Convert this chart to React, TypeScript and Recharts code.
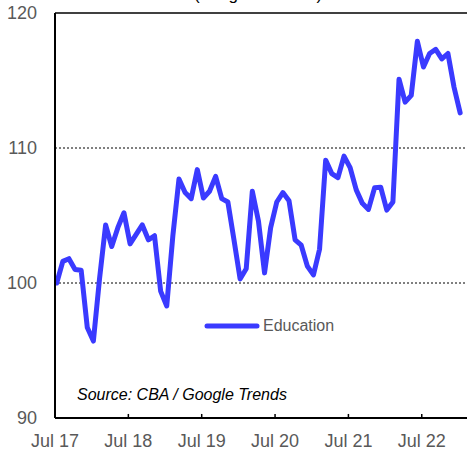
import React from 'react';
import { LineChart, Line, XAxis, YAxis, ReferenceLine } from 'recharts';

// Monthly index, Jul 17 .. Jan 23
const education = [
  100.0, 101.6, 101.8, 101.0, 100.95, 96.7, 95.7, 100.3, 104.3, 102.7, 104.1, 105.2,
  102.9, 103.6, 104.3, 103.2, 103.5, 99.4, 98.3, 103.5, 107.7, 106.7, 106.25, 108.4,
  106.3, 106.8, 107.9, 106.25, 106.0, 103.2, 100.3, 101.05, 106.8, 104.6, 100.75, 104.1,
  106.0, 106.7, 106.1, 103.2, 102.8, 101.25, 100.6, 102.5, 109.1, 108.1, 107.8, 109.4,
  108.55, 106.9, 105.9, 105.45, 107.05, 107.1, 105.4, 106.0, 115.1, 113.4, 113.9, 117.9,
  116.0, 117.0, 117.3, 116.6, 117.0, 114.5, 112.6,
];

const tickMonths = [0, 12, 24, 36, 48, 60];
const tickLabels = ['Jul 17', 'Jul 18', 'Jul 19', 'Jul 20', 'Jul 21', 'Jul 22'];
const yTicks = [90, 100, 110, 120];

const FONT = '"Liberation Sans", Arial, sans-serif';
const GREY = '#595959';
const BLUE = '#3a3aff';

// points sit a little after the start of their month
const data = education.map((v, i) => ({ m: i + 0.28, education: v }));

export default function App() {
  return (
    <div style={{ position: 'absolute', left: 0, top: 0, width: 467, height: 452, overflow: 'hidden', background: '#fff' }}>
      <div
        style={{
          position: 'absolute', top: -15, left: 0, width: 516, textAlign: 'center',
          fontFamily: FONT, fontSize: 17, color: '#000',
        }}
      >
        (Weighted index)
      </div>
      <LineChart width={467} height={452} data={data} margin={{ top: 13, right: 0, bottom: 0, left: 0 }}>
        <XAxis
          dataKey="m"
          type="number"
          domain={[0, 67.4]}
          ticks={tickMonths}
          tickFormatter={(v: number) => tickLabels[tickMonths.indexOf(v)] ?? ''}
          height={34}
          axisLine={{ stroke: '#000', strokeWidth: 2 }}
          tickLine={false}
          tickSize={6}
          tickMargin={10}
          tick={{ fill: GREY, fontSize: 18, fontFamily: FONT }}
          allowDataOverflow
        />
        <YAxis
          type="number"
          domain={[90, 120]}
          ticks={yTicks}
          width={55}
          axisLine={{ stroke: '#000', strokeWidth: 2 }}
          tickLine={false}
          tickSize={6}
          tickMargin={12}
          tick={{ fill: GREY, fontSize: 18, fontFamily: FONT }}
        />
        <ReferenceLine y={100} stroke="#000" strokeDasharray="2 2" />
        <ReferenceLine y={110} stroke="#000" strokeDasharray="2 2" />
        <ReferenceLine y={120} stroke="#000" strokeWidth={1.5} />
        {tickMonths.slice(1).map((m) => (
          <ReferenceLine key={m} segment={[{ x: m, y: 90 }, { x: m, y: 90.3 }]} stroke="#000" strokeWidth={1.5} />
        ))}
        <Line
          dataKey="education"
          name="Education"
          type="linear"
          stroke={BLUE}
          strokeWidth={5}
          strokeLinejoin="round"
          strokeLinecap="round"
          dot={false}
          isAnimationActive={false}
        />
      </LineChart>
      <div
        style={{
          position: 'absolute', left: 204, top: 317, display: 'flex', alignItems: 'center',
          fontFamily: FONT, fontSize: 16, color: GREY,
        }}
      >
        <svg width={56} height={10}>
          <line x1={3} y1={5} x2={53} y2={5} stroke={BLUE} strokeWidth={5} strokeLinecap="round" />
        </svg>
        <span style={{ marginLeft: 3 }}>Education</span>
      </div>
      <div
        style={{
          position: 'absolute', left: 77, top: 386, fontFamily: FONT, fontSize: 16,
          fontStyle: 'italic', color: '#000', whiteSpace: 'nowrap',
        }}
      >
        Source: CBA / Google Trends
      </div>
    </div>
  );
}
